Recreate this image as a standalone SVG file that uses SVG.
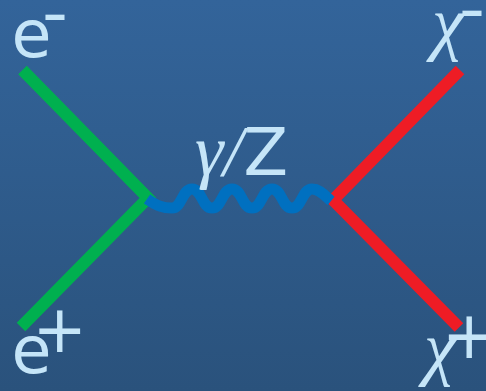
<svg xmlns="http://www.w3.org/2000/svg" width="486" height="391" viewBox="0 0 486 391">
  <defs>
    <linearGradient id="bg" x1="0" y1="0" x2="0" y2="1">
      <stop offset="0" stop-color="#33649A"/>
      <stop offset="1" stop-color="#2A527C"/>
    </linearGradient>
  </defs>
  <style>
    .lbl { fill: #C5E5F8; font-family: "DejaVu Sans", sans-serif; font-size: 65px; font-style: normal; }
    .gr { fill: #C5E5F8; font-family: "Liberation Serif", "DejaVu Serif", serif; font-size: 72px; font-style: italic; }
    .leg { fill: none; stroke-width: 12; stroke-linejoin: miter; stroke-linecap: butt; }
  </style>
  <rect x="0" y="0" width="486" height="391" fill="url(#bg)"/>
  <g id="connectors">
    <polyline id="electron-lines" class="leg" stroke="#00B04F" points="22.5,70 148,198 21,327"/>
    <polyline id="chargino-lines" class="leg" stroke="#EE1C25" points="460,70 333,200 459,327.5"/>
    <path id="boson" fill="none" stroke="#0070C0" stroke-width="11" d="M147,199 C157,206 163,208 172,208 C182,208 182,189 192,189 C202,189 202,208 212,208 C222,208 222,189 232,189 C242,189 242,208 252,208 C262,208 262,189 272,189 C282,189 282,208 292,208 C302,208 302,189 312,189 C320,189 325,196 331,201"/>
  </g>
  <g id="e-minus">
    <text class="lbl" x="11.5" y="57">e</text>
    <text class="lbl" x="42" y="35" textLength="26" lengthAdjust="spacingAndGlyphs">-</text>
  </g>
  <g id="e-plus">
    <text class="lbl" x="11.5" y="373">e</text>
    <text class="lbl" x="32.5" y="351.5">+</text>
  </g>
  <g id="chi-minus">
    <text class="gr" x="432" y="47">χ</text>
    <text class="lbl" x="459" y="31" textLength="26" lengthAdjust="spacingAndGlyphs">-</text>
  </g>
  <g id="chi-plus">
    <text class="gr" x="424" y="372">χ</text>
    <text class="lbl" x="442" y="357.5">+</text>
  </g>
  <g id="boson-label">
    <text class="gr" x="195" y="175">γ/<tspan class="lbl">Z</tspan></text>
  </g>
</svg>
